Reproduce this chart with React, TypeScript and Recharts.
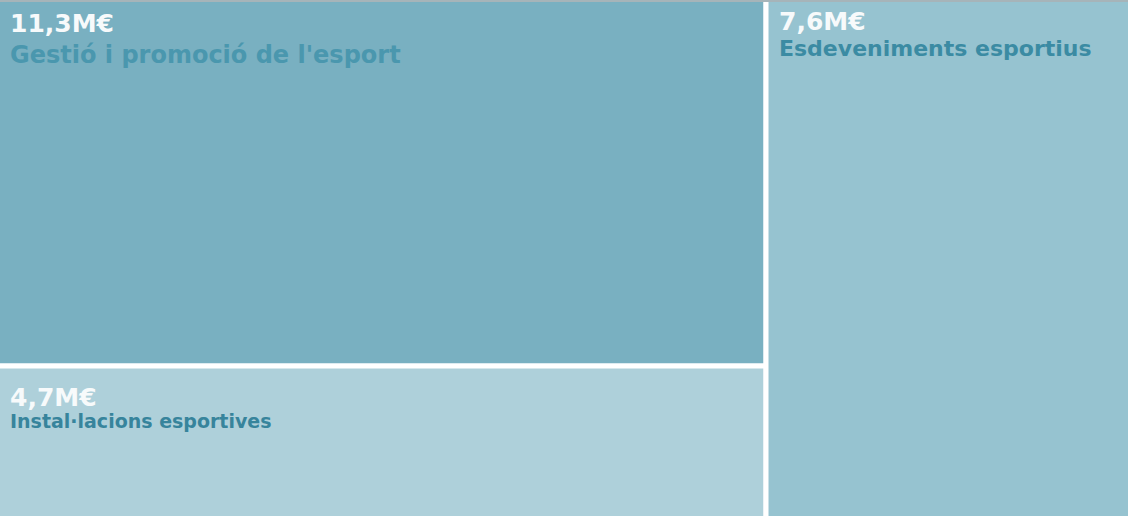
import React from "react";
import { Treemap } from "recharts";

// pressupost d'esports, en milions d'euros
const categories = ["Gestió i promoció de l'esport", "Instal·lacions esportives", "Esdeveniments esportius"];
const values = [11.3, 4.7, 7.6];
const columns = [0, 0, 1]; // columna del treemap per a cada partida

const W = 1128;
const H = 516;
const BLEED = 3; // amaga el traç blanc de les vores exteriors

const FILLS = ["#79b0c1", "#aed0da", "#96c3d0"];
const LABEL_COLORS = ["#4a97ae", "#37849c", "#3b8ba3"];
const LABEL_SIZES = [24, 19, 22];
const VALUE_DY = [35, 40, 33];
const LABEL_DY = [31, 22, 26];
const FONT = "'DejaVu Sans', Verdana, sans-serif";

const fmt = (v: number) => `${v.toFixed(1).replace(".", ",")}M€`;

const tree = [0, 1].map((col) => ({
  name: `col${col}`,
  children: categories
    .map((name, i) => ({ name, value: values[i] }))
    .filter((_, i) => columns[i] === col),
}));

function Tile(props: any) {
  const { x, y, width, height, name, depth, children } = props;
  if (depth !== 2 || (children && children.length)) return <g />;
  const i = categories.indexOf(name);
  const tx = x + 13;
  const ty = y + VALUE_DY[i];
  return (
    <g>
      <rect x={x} y={y} width={width} height={height} fill={FILLS[i]} stroke="#ffffff" strokeWidth={5} />
      <text x={tx} y={ty} fill="#f7fafb" fontSize={25} fontWeight="bold" fontFamily={FONT}>
        {fmt(values[i])}
      </text>
      <text x={tx} y={ty + LABEL_DY[i]} fill={LABEL_COLORS[i]} fontSize={LABEL_SIZES[i]} fontWeight="bold" fontFamily={FONT}>
        {name}
      </text>
    </g>
  );
}

export default function App() {
  return (
    <div style={{ position: "absolute", left: 0, top: 0, width: W, height: H, overflow: "hidden", background: "#fff" }}>
      <div style={{ position: "absolute", left: -BLEED, top: -BLEED }}>
        <Treemap
          width={W + 2 * BLEED}
          height={H + 2 * BLEED}
          data={tree}
          dataKey="value"
          nameKey="name"
          type="flat"
          aspectRatio={2.7}
          isAnimationActive={false}
          content={<Tile />}
        />
      </div>
      <div style={{ position: "absolute", left: 0, top: 0, width: W, height: 2, background: "#a6b4b9" }} />
    </div>
  );
}
